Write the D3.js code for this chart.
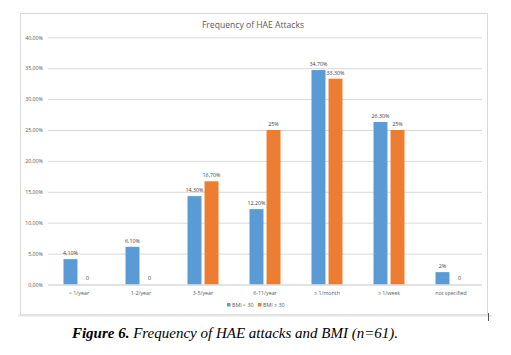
<!DOCTYPE html>
<html>
<head>
<meta charset="utf-8">
<script src="https://cdn.jsdelivr.net/npm/d3@7"></script>
<style>
html,body{margin:0;padding:0;background:#fff;}
svg{display:block;}
</style>
</head>
<body>
<script>
const categories = ["< 1/year","1-2/year","3-5/year","6-11/year","\u2265 1/month","\u2265 1/week","not specified"];
const seriesNames = ["BMI < 30","BMI \u2265 30"];
const bmiUnder30 = [4.10, 6.10, 14.30, 12.20, 34.70, 26.30, 2];
const bmiOver30 = [0, 0, 16.70, 25, 33.30, 25, 0];
const labelsUnder30 = ["4,10%","6,10%","14,30%","12,20%","34,70%","26,30%","2%"];
const labelsOver30 = ["0","0","16,70%","25%","33,30%","25%","0"];
const yTicks = [0,5,10,15,20,25,30,35,40];
const yTickLabels = ["0,00%","5,00%","10,00%","15,00%","20,00%","25,00%","30,00%","35,00%","40,00%"];
const colors = ["#5B9BD5","#ED7D31"];

(function(){
const W = 511, H = 355;
const svg = d3.select("body").append("svg").attr("width", W).attr("height", H);
const font = "'Open Sans', 'Noto Sans', sans-serif";

// chart frame
svg.append("rect").attr("x",20.5).attr("y",13.5).attr("width",467).attr("height",301)
  .attr("fill","#fff").attr("stroke","#d9d9d9").attr("stroke-width",1);
svg.append("line").attr("x1",18).attr("x2",492).attr("y1",315.5).attr("y2",315.5)
  .attr("stroke","#e6e6e6").attr("stroke-width",2);
svg.append("line").attr("x1",488.5).attr("x2",488.5).attr("y1",313).attr("y2",321)
  .attr("stroke","#555").attr("stroke-width",1);

const pLeft = 48, pRight = 482, pTop = 37.3, pBottom = 284.5;
const x0 = d3.scaleBand().domain(categories).range([pLeft, pRight]).padding(0);
const x1 = d3.scaleBand().domain(seriesNames).range([0, x0.bandwidth()]).paddingInner(0.18).paddingOuter(0.91);
const y = d3.scaleLinear().domain([0, 40]).range([pBottom, pTop]);

// title
svg.append("text").attr("x", 253).attr("y", 28).attr("text-anchor","middle")
  .attr("font-family", font).attr("font-size", 8.6).attr("fill","#595959")
  .text("Frequency of HAE Attacks");

// gridlines
const yAxis = d3.axisLeft(y).tickValues(yTicks).tickFormat((d,i)=>yTickLabels[i]).tickSize(-(pRight-pLeft)).tickPadding(5);
const gAxis = svg.append("g").attr("transform", `translate(${pLeft},0)`).call(yAxis);
gAxis.select(".domain").remove();
gAxis.selectAll(".tick line").attr("stroke","#d9d9d9").attr("stroke-width",1);
gAxis.selectAll(".tick text").attr("font-family", font).attr("font-size", 5.3).attr("fill","#595959");

// bars
const data = categories.map((c,i)=>({cat:c, vals:[
  {s:seriesNames[0], v:bmiUnder30[i], l:labelsUnder30[i], c:colors[0]},
  {s:seriesNames[1], v:bmiOver30[i], l:labelsOver30[i], c:colors[1]}]}));

const groups = svg.append("g").selectAll("g").data(data).join("g")
  .attr("transform", d=>`translate(${x0(d.cat)},0)`);
groups.selectAll("rect").data(d=>d.vals).join("rect")
  .attr("x", d=>x1(d.s)).attr("width", x1.bandwidth())
  .attr("y", d=>y(d.v)).attr("height", d=>y(0)-y(d.v))
  .attr("fill", d=>d.c);
groups.selectAll("text").data(d=>d.vals).join("text")
  .attr("x", d=>x1(d.s)+x1.bandwidth()/2)
  .attr("y", d=> d.v===0 ? y(0)-5 : y(d.v)-4)
  .attr("text-anchor","middle")
  .attr("font-family", font).attr("font-size", 5.3).attr("fill","#404040")
  .text(d=>d.l);

// baseline
svg.append("line").attr("x1",pLeft).attr("x2",pRight).attr("y1",y(0)+0.5).attr("y2",y(0)+0.5)
  .attr("stroke","#d9d9d9");

// category labels
svg.append("g").selectAll("text").data(categories).join("text")
  .attr("x", d=>x0(d)+x0.bandwidth()/2).attr("y", 294.5)
  .attr("text-anchor","middle").attr("font-family", font).attr("font-size", 5.3).attr("fill","#595959")
  .text(d=>d);

// legend
const legend = svg.append("g");
const legX = [227, 258];
seriesNames.forEach((s,i)=>{
  legend.append("rect").attr("x", legX[i]).attr("y", 303).attr("width",3.5).attr("height",3.5).attr("fill", colors[i]);
  legend.append("text").attr("x", legX[i]+5).attr("y", 306.8).attr("font-family", font).attr("font-size", 5.3)
    .attr("fill","#595959").text(s);
});

// caption
const cap = svg.append("text").attr("x", 235).attr("y", 338).attr("text-anchor","middle")
  .attr("font-family","'Liberation Serif', 'DejaVu Serif', serif").attr("font-size", 15).attr("font-style","italic").attr("fill","#000");
cap.append("tspan").attr("font-weight","bold").text("Figure 6.");
cap.append("tspan").attr("font-weight","normal").text(" Frequency of HAE attacks and BMI (n=61).");
})();
</script>
</body>
</html>
